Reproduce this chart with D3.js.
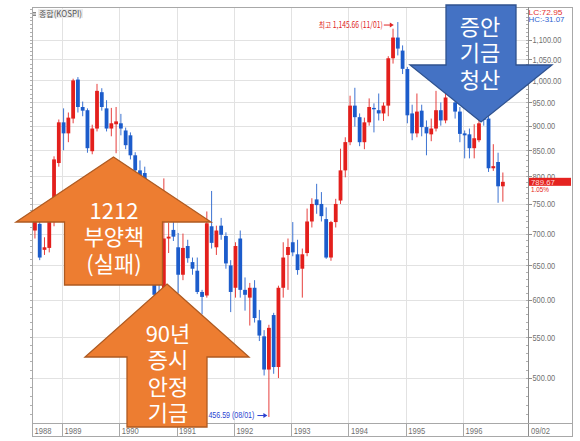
<!DOCTYPE html>
<html><head><meta charset="utf-8">
<script src="https://cdn.jsdelivr.net/npm/d3@7"></script>
<style>body{margin:0;background:#fff}svg{display:block}</style>
</head><body>
<svg id="c" width="580" height="441"></svg>
<script>
// ---- data (monthly KOSPI candles, Jul 1988 - Sep 1996) ----
const startYear = 1988, startMonth = 7;
const open  = [705,716,674,677,719,825,907,884,915,1002,940,933,848,894,973,937,894,903,905,890,880,840,811,806,715,655,610,616,692,706,678,636,680,655,642,611,606,712,678,713,696,650,617,692,614,603,617,572,551,510,579,513,617,666,686,667,645,669,720,758,750,724,662,719,756,811,866,943,918,866,907,938,933,926,943,1053,1105,1072,1027,926,884,932,897,882,894,933,911,980,950,930,884,882,854,870,920,915,815,827,781.5];
const high  = [726,722,694,745,838,913,937,928,1004,1007.77,952,937,902,992,982,955,938,940,925,896,886,846,830,818,735,668,622,796,718,720,701,700,690,662,662,614,737,773,713,726,702,658,686,705,632,624,628,586,559,566,582,620,686,692,719,690,676,742,760,786,771,744,721,759,853,876,965,983,926,917,959,948,970,950,1058,1128,1145.66,1085,1032,945,970,945,911,915,976,950,985,1016,965,940,890,894,903,918,985,920,862,845,807];
const low   = [692,658,666,670,712,818,850,866,905,928,920,845,842,888,932,888,878,844,880,852,832,800,770,700,650,600,566,612,669,688,609,628,654,636,608,580,603,676,666,690,645,583,603,603,585,565,569,545,503,456.59,505,500,603,614,664,636,603,664,710,733,720,660,657,710,750,798,860,898,858,852,900,886,911,910,920,1040,1060,1015,905,870,876,878,840,868,888,900,905,962,915,866,834,834,834,866,900,808,810,752,754];
const close = [719,662,678,719,832,907,884,917,1000,940,932,854,894,976,940,894,905,909,894,860,840,811,800,715,660,607,590,692,695,695,636,677,661,645,611,604,717,685,705,698,653,611,680,614,607,617,575,552,510,562,513,617,662,678.44,670,643,667,720,750,748,729,662,719,750,811,866.18,943,918,866,907,940,935,926,943,1053,1105,1077,1027.37,922,884,930,897,884,894,933,911,961,965,930,882.94,880,854,874,905,912,815,819,781.5,789.67];
const yTicks = [500,550,600,650,700,750,800,850,900,950,1000,1050,1100];
const yTickLabels = ["500.00","550.00","600.00","650.00","700.00","750.00","800.00","850.00","900.00","950.00","1,000.00","1,050.00","1,100.00"];
const yearLabels = ["1988","1989","1990","1991","1992","1993","1994","1995","1996"];
const endLabel = "09/02";
const peakLabel = "최고 1,145.66 (11/01)", peakValue = 1145.66, peakMonth = 76;
const lowLabel = "456.59 (08/01)", lowValue = 456.59, lowMonth = 49;
const lastPrice = "789.67", lastChange = "1.05%";
const lcText = "LC:72.95", hcText = "HC:-31.07";
const titleText = "종합(KOSPI)";
const arrow1Text = ["1212","부양책","(실패)"];
const arrow2Text = ["90년","증시","안정","기금"];
const arrow3Text = ["증안","기금","청산"];

// ---- layout ----
const L=32, R=528, T=7, B=423, FR=572, XB=436;
const svg = d3.select("#c");
const x = d3.scaleLinear().domain([5.72,109.6]).range([L,R]);
const y = d3.scaleLog().domain([450.3,1186.5]).range([B,T]);
const firstIdx = (startYear-1988)*12 + (startMonth-1);
const data = open.map((o,i)=>({i,o,h:high[i],l:low[i],c:close[i]}));
const cx = i => x(firstIdx+i)+1.6;
const RED="#e31f1c", BLUE="#1c5ccb";
const mono = "'Liberation Sans', Arial, sans-serif";
const kr = "'Noto Sans CJK KR', sans-serif";
function squeeze(sel,f){sel.each(function(){const w=this.getComputedTextLength();d3.select(this).attr("textLength",w*f).attr("lengthAdjust","spacingAndGlyphs");});}
function fitW(sel,w){sel.attr("textLength",w).attr("lengthAdjust","spacingAndGlyphs");}

svg.append("rect").attr("width",580).attr("height",441).attr("fill","#fff");

// gridlines
const grid = svg.append("g").attr("stroke","#e2e2e2").attr("stroke-width",1);
grid.selectAll("line.h").data(yTicks).join("line")
  .attr("x1",L).attr("x2",R).attr("y1",d=>Math.round(y(d))+0.5).attr("y2",d=>Math.round(y(d))+0.5);
const yearIdx = yearLabels.map(s=>(+s-1988)*12);
grid.selectAll("line.v").data(yearIdx.slice(1)).join("line")
  .attr("x1",d=>Math.round(x(d))+0.5).attr("x2",d=>Math.round(x(d))+0.5).attr("y1",T).attr("y2",B);

// frame
const fr = svg.append("g").attr("stroke","#a8a8a8").attr("fill","none");
fr.append("rect").attr("x",L+0.5).attr("y",T+0.5).attr("width",FR-L).attr("height",XB-T);
fr.append("line").attr("x1",R+0.5).attr("x2",R+0.5).attr("y1",T).attr("y2",XB).attr("stroke","#8c8c8c");
fr.append("line").attr("x1",L).attr("x2",FR).attr("y1",B+0.5).attr("y2",B+0.5);
fr.selectAll("line.sep").data(yearIdx.slice(1)).join("line")
  .attr("x1",d=>Math.round(x(d))+0.5).attr("x2",d=>Math.round(x(d))+0.5).attr("y1",B).attr("y2",XB);

// minor ticks on both vertical axes
const minor = d3.range(460,1190,10);
const mt = svg.append("g").attr("stroke","#b0b0b0");
mt.selectAll("line.r").data(minor).join("line").attr("x1",R-2).attr("x2",R).attr("y1",d=>Math.round(y(d))+0.5).attr("y2",d=>Math.round(y(d))+0.5);
mt.selectAll("line.l").data(minor).join("line").attr("x1",L-2).attr("x2",L).attr("y1",d=>Math.round(y(d))+0.5).attr("y2",d=>Math.round(y(d))+0.5);
svg.append("g").attr("stroke","#8c8c8c").selectAll("line").data(yTicks).join("line")
  .attr("x1",R).attr("x2",R+4).attr("y1",d=>Math.round(y(d))+0.5).attr("y2",d=>Math.round(y(d))+0.5);

// y labels
svg.append("g").selectAll("text").data(yTicks).join("text")
  .attr("x",R+4.5).attr("y",d=>y(d)+3.4).text((d,i)=>yTickLabels[i])
  .attr("font-family",mono).attr("font-size",9.5).attr("fill","#707070").call(squeeze,0.78);

// x labels
svg.append("g").selectAll("text").data(yearLabels).join("text")
  .attr("x",(d,i)=> i===0 ? L+2.5 : x(yearIdx[i])+2.5).attr("y",433.5).text(d=>d)
  .attr("font-family",mono).attr("font-size",9.5).attr("fill","#707070").call(squeeze,0.8);
svg.append("text").attr("x",R+3).attr("y",433.5).text(endLabel)
  .attr("font-family",mono).attr("font-size",9.5).attr("fill","#707070").call(squeeze,0.8);

// candles
const cg = svg.append("g");
cg.selectAll("line").data(data).join("line")
  .attr("x1",d=>cx(d.i)).attr("x2",d=>cx(d.i)).attr("y1",d=>y(d.h)).attr("y2",d=>y(d.l))
  .attr("stroke",d=>d.c>=d.o?RED:BLUE).attr("stroke-width",1).attr("opacity",0.85);
cg.selectAll("rect").data(data).join("rect")
  .attr("x",d=>cx(d.i)-1.9).attr("width",3.8)
  .attr("y",d=>y(Math.max(d.o,d.c))).attr("height",d=>Math.max(1.2,Math.abs(y(d.o)-y(d.c))))
  .attr("fill",d=>d.c>=d.o?RED:BLUE);

// title chip
svg.append("rect").attr("x",38).attr("y",9).attr("width",45).attr("height",9).attr("fill","#ececec");
svg.append("g").attr("stroke","#888").selectAll("line").data([12,13.5,15]).join("line")
  .attr("x1",33).attr("x2",36).attr("y1",d=>d+0.5).attr("y2",d=>d+0.5);
svg.append("text").attr("x",39).attr("y",16.5).text(titleText).attr("font-family",kr)
  .attr("font-size",8.5).attr("fill","#555").call(fitW,43);

// LC/HC as one two-line text
const lc = svg.append("text").attr("font-family",mono).attr("font-size",7.5);
lc.append("tspan").attr("x",R+0.5).attr("y",14.5).attr("fill","#e53030").text(lcText).call(fitW,34);
lc.append("tspan").attr("x",R+0.5).attr("y",21.5).attr("fill","#2f5fd0").text(hcText).call(fitW,36);

// peak annotation
const py = y(peakValue)+2.5, px = cx(peakMonth)-4;
svg.append("text").attr("x",px-11).attr("y",py+3).attr("text-anchor","end").text(peakLabel)
  .attr("font-family",kr).attr("font-size",8.5).attr("fill","#e02424").call(fitW,64);
svg.append("line").attr("x1",px-10).attr("x2",px-3).attr("y1",py+0.5).attr("y2",py+0.5).attr("stroke","#e02424");
svg.append("path").attr("d",`M${px-4},${py-2}L${px},${py+0.5}L${px-4},${py+3}Z`).attr("fill","#e02424");

// low annotation
const ly = y(lowValue)-2, lx = cx(lowMonth)-1.5;
svg.append("text").attr("x",lx-13).attr("y",ly+3).attr("text-anchor","end").text(lowLabel)
  .attr("font-family",mono).attr("font-size",9).attr("fill","#2a3fd0").call(fitW,46);
svg.append("line").attr("x1",lx-10).attr("x2",lx-3).attr("y1",ly+0.5).attr("y2",ly+0.5).attr("stroke","#2a3fd0");
svg.append("path").attr("d",`M${lx-4},${ly-2}L${lx},${ly+0.5}L${lx-4},${ly+3}Z`).attr("fill","#2a3fd0");

// last price tag
const lpY = y(+lastPrice);
svg.append("rect").attr("x",R+1).attr("y",lpY-4).attr("width",FR-R-2).attr("height",8).attr("fill","#e52320");
const lp = svg.append("text").attr("font-family",mono).attr("font-size",7.5);
lp.append("tspan").attr("x",R+3).attr("y",lpY+2.8).attr("fill","#ffd8d8").text(lastPrice).call(fitW,24);
lp.append("tspan").attr("x",R+3).attr("y",lpY+10.5).attr("fill","#e52320").text(lastChange).call(fitW,18);

// arrows
function arrowUp(c,tip,sh,bot,hh,hs){return [[c,tip],[c+hh,sh],[c+hs,sh],[c+hs,bot],[c-hs,bot],[c-hs,sh],[c-hh,sh]];}
function arrowDown(c,top,sh,tip,hh,hs){return [[c-hs,top],[c+hs,top],[c+hs,sh],[c+hh,sh],[c,tip],[c-hh,sh],[c-hs,sh]];}
const poly = pts => "M"+pts.map(p=>p.join(",")).join("L")+"Z";
function textBlock(lines,c,y0){
  const t = svg.append("text").attr("text-anchor","middle")
    .attr("font-family",kr).attr("font-size",22).attr("fill","#fff");
  t.selectAll("tspan").data(lines).join("tspan")
    .attr("x",c).attr("y",(d,i)=>y0+i*26.5).text(d=>d);
}
svg.append("path").attr("d",poly(arrowUp(113.5,157,222,285,97.5,49))).attr("fill","#ed7d31").attr("stroke","#ae5a21").attr("stroke-width",1.3);
textBlock(arrow1Text,114,218.5);
svg.append("path").attr("d",poly(arrowUp(167,284,357,427,82,40))).attr("fill","#ed7d31").attr("stroke","#ae5a21").attr("stroke-width",1.3);
textBlock(arrow2Text,168,341.5);
svg.append("path").attr("d",poly(arrowDown(481,5,65,122,71,35))).attr("fill","#4472c4").attr("stroke","#2f528f").attr("stroke-width",1.3);
textBlock(arrow3Text,480,34.5);
</script>
</body></html>
